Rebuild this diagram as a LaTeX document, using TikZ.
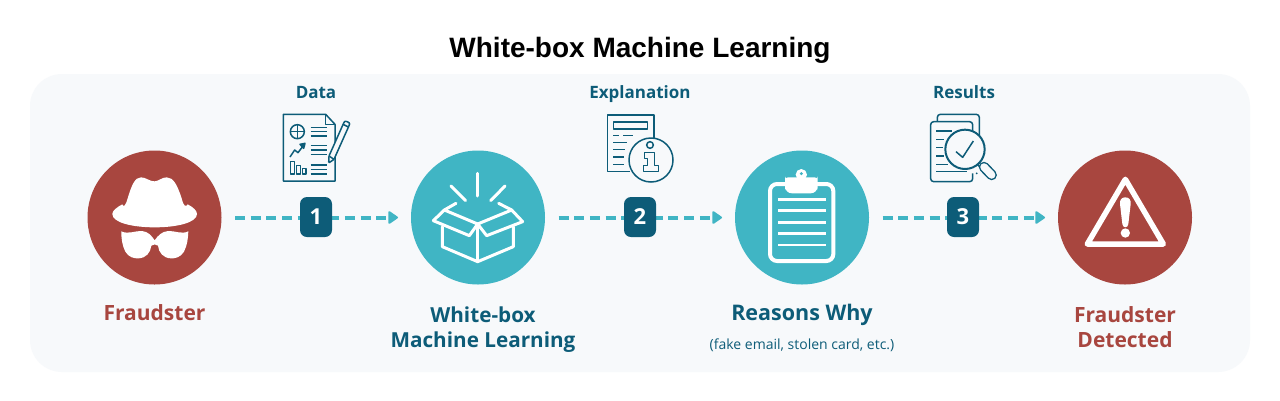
\documentclass[tikz,border=0pt]{standalone}
\usepackage{fontspec}
\setmainfont{Open Sans}
\newfontfamily\titlefont{Liberation Sans}
\usetikzlibrary{arrows.meta}
\definecolor{redc}{HTML}{A8463F}
\definecolor{tealc}{HTML}{40B5C4}
\definecolor{darkc}{HTML}{0D5C78}
\definecolor{panelc}{HTML}{F7F9FB}
\newcommand{\fs}[1]{\fontsize{#1pt}{#1pt}\selectfont}
\tikzset{
  zoomed/.style 2 args={shift={(#1,#2)},x=0.33333pt,y=-0.33333pt},
  bigcircle/.style={circle,minimum size=134pt,inner sep=0pt,outer sep=0pt,fill=#1},
  flow/.style={draw=tealc,line width=4pt,dash pattern=on 10pt off 5.7pt,shorten <=13.5pt,shorten >=13pt,
    -{Triangle[length=10.5pt,width=14pt,round,line width=2pt]}},
  badge/.style={fill=darkc,text=white,rounded corners=7pt,minimum width=32pt,minimum height=40pt,inner sep=0pt,font=\fs{22}\bfseries},
  toplabel/.style={anchor=base,text=darkc,inner sep=0pt,font=\fs{17}\bfseries},
  mainlabel/.style={anchor=base,inner sep=0pt,text=#1,font=\fs{21}\bfseries},
  iconline/.style={draw=darkc,line width=1.5pt,line join=round},
  ink/.style={draw=white,line join=round,line cap=round},
}
\begin{document}
\begin{tikzpicture}[x=1pt,y=-1pt]
\useasboundingbox (0,0) rectangle (1280,400);
\fill[white] (0,0) rectangle (1280,400);
\fill[panelc,rounded corners=32pt] (30,74) rectangle (1250,372);

\node[anchor=base,inner sep=0pt,font=\titlefont\fs{28}\bfseries,text=black] (title) at (640,57) {White-box Machine Learning};

\node[bigcircle=redc] (fraud) at (154.5,217.5) {};
\node[bigcircle=tealc] (wbox) at (478,217.5) {};
\node[bigcircle=tealc] (why) at (802,217.5) {};
\node[bigcircle=redc] (detected) at (1125,217.5) {};

\draw[flow] (fraud) -- (wbox);
\draw[flow] (wbox) -- (why);
\draw[flow] (why) -- (detected);

\node[badge] (b1) at (316,217) {1};
\node[badge] (b2) at (640,217) {2};
\node[badge] (b3) at (963,217) {3};

\node[toplabel] (ldata) at (316,98.5) {Data};
\node[toplabel] (lexpl) at (640,98.5) {Explanation};
\node[toplabel] (lres) at (964,98.5) {Results};

\node[mainlabel=redc] (lf) at (154.5,320.7) {Fraudster};
\node[mainlabel=darkc,font=\fs{20.7}\bfseries] (lw1) at (483,322.7) {White-box};
\node[mainlabel=darkc,font=\fs{20.7}\bfseries] (lw2) at (483,347) {Machine Learning};
\node[mainlabel=darkc,font=\fs{21.5}\bfseries] (lr) at (802,320.7) {Reasons Why};
\node[anchor=base,inner sep=0pt,text=darkc,font=\fs{14}] (lsub) at (802,349.5) {(fake email, stolen card, etc.)};
\node[mainlabel=redc] (ld1) at (1125,322.7) {Fraudster};
\node[mainlabel=redc] (ld2) at (1125,347.2) {Detected};

% hat and glasses
\begin{scope}[zoomed={60}{70}]
\fill[white] (187,403) .. controls (190,412) and (196,410) .. (203,385)
  .. controls (215,345) and (225,322) .. (243,322)
  .. controls (258,322) and (268,334) .. (283,334)
  .. controls (296,334) and (305,322) .. (320,322)
  .. controls (340,322) and (352,345) .. (365,385)
  .. controls (371,410) and (378,412) .. (383,403)
  .. controls (400,412) and (411,422) .. (411,432)
  .. controls (411,458) and (350,472) .. (284,472)
  .. controls (218,472) and (157,458) .. (157,432)
  .. controls (157,422) and (170,412) .. (187,403) -- cycle;
\fill[white] (184,484) .. controls (205,494) and (225,482) .. (245,483)
  .. controls (265,484) and (275,498) .. (284,511)
  .. controls (293,498) and (305,484) .. (325,483)
  .. controls (345,482) and (365,494) .. (385,484)
  .. controls (384,505) and (382,525) .. (372,545)
  .. controls (362,562) and (345,566) .. (332,565)
  .. controls (310,564) and (296,548) .. (294,527)
  .. controls (288,522) and (280,522) .. (274,527)
  .. controls (272,548) and (258,564) .. (236,565)
  .. controls (223,566) and (206,562) .. (196,545)
  .. controls (186,525) and (184,505) .. (184,484) -- cycle;
\end{scope}

% open box
\begin{scope}[zoomed={400}{70},ink,line width=3pt]
\draw (233,310) -- (233,378);
\draw (153,348) -- (197,392);
\draw (315,348) -- (272,392);
\draw (127,470) -- (127,530) -- (233,575) -- (340,530) -- (340,470);
\draw (233,462) -- (233,575);
\draw (168,400) -- (133,420);
\draw (133,420) -- (100,452) -- (208,497) -- (233,462) -- cycle;
\draw (296,400) -- (335,420);
\draw (335,420) -- (368,455) -- (260,497) -- (233,462) -- cycle;
\end{scope}

% clipboard
\begin{scope}[zoomed={720}{70}]
\draw[white,line width=4pt,rounded corners=7pt] (150,342) rectangle (340,573);
\fill[white,rounded corners=7pt] (195,370) -- (195,340) .. controls (195,328) and (205,322) .. (225,322) -- (263,322) .. controls (283,322) and (293,328) .. (293,340) -- (293,370) -- cycle;
\fill[white] (244,314) circle (17);
\fill[tealc] (244,311) circle (5);
\foreach \y in {388,422,457,491,525}
  \draw[white,line width=2.5pt] (175,\y) -- (317,\y);
\end{scope}

% warning
\begin{scope}[zoomed={1000}{140}]
\draw[white,line width=5.5pt,line join=round] (376,118) -- (262,312) -- (490,312) -- cycle;
\fill[white] (376,172) .. controls (388,172) and (393,180) .. (392,192)
  -- (385,252) .. controls (384,265) and (368,265) .. (367,252)
  -- (360,192) .. controls (359,180) and (364,172) .. (376,172) -- cycle;
\fill[white] (376,279) circle (14);
\end{scope}

% data icon
\begin{scope}[zoomed={270}{105},iconline]
\draw (40,28) -- (167,28) -- (195,58) -- (195,228) -- (40,228) -- cycle;
\draw (167,28) -- (167,58) -- (195,58);
\draw (82,80) circle (21);
\draw (61,80) -- (103,80) (82,59) -- (82,101);
\foreach \y in {68,80,93,122,135,148,180,193,207}
  \draw (122,\y) -- (172,\y);
\draw (60,156) -- (74,135) -- (84,143) -- (100,122);
\draw[fill=darkc] (90,118) -- (105,115) -- (101,130) -- cycle;
\draw (61,170) rectangle (73,207);
\draw (80,182) rectangle (92,207);
\draw (97,190) rectangle (108,207);
\draw[fill=panelc,rounded corners=1pt] (176,174) -- (177,153) -- (222,52) .. controls (226,47) and (240,52) .. (238,60) -- (192,163) -- cycle;
\draw (177,153) -- (192,163);
\draw (219,58) -- (235,66);
\end{scope}

% explanation icon
\begin{scope}[zoomed={595}{105},iconline]
\draw (105,200) -- (38,200) -- (38,30) -- (177,30) -- (177,100);
\draw (55,51) rectangle (157,72);
\draw (55,92) -- (72,92) (85,92) -- (115,92);
\draw (55,113) -- (95,113);
\draw (55,134) -- (90,134);
\draw (55,156) -- (88,156);
\draw (55,178) -- (88,178);
\draw[fill=panelc] (168,165) circle (66);
\draw (165,120) circle (10);
\draw (148,142) -- (178,142) -- (178,182) -- (190,182) -- (190,200) -- (145,200) -- (145,182) -- (158,182) -- (158,160) -- (148,160) -- cycle;
\end{scope}

% results icon
\begin{scope}[zoomed={920}{105},iconline]
\draw[rounded corners=3pt] (52,48) -- (52,28) -- (178,28) -- (178,175);
\draw[fill=panelc,rounded corners=3pt] (158,205) -- (158,230) -- (32,230) -- (32,50) -- (158,50) -- (158,80);
\draw (48,78) -- (95,78);
\draw (48,103) -- (72,103);
\draw (48,128) -- (68,128);
\draw (48,153) -- (72,153);
\draw (48,178) -- (85,178);
\draw (48,200) -- (140,200);
\draw (172,178) -- (184,190);
\draw[line width=10.5pt,line cap=round] (192,186) -- (215,210);
\draw[panelc,line width=7.5pt,line cap=round] (192,186) -- (215,210);
\fill[darkc] (170,205) circle (3);
\draw[fill=panelc,line width=2pt] (135,133) circle (59);
\draw (108,140) -- (128,157) -- (160,108);
\end{scope}
\end{tikzpicture}
\end{document}
